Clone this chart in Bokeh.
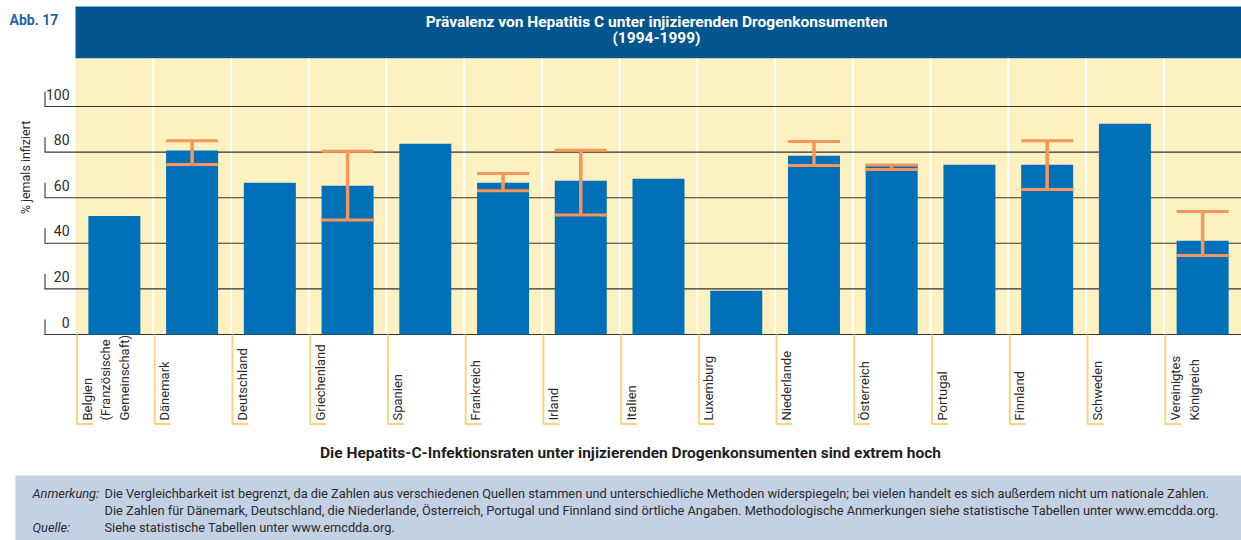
import math
from bokeh.plotting import figure
from bokeh.models import Range1d
from bokeh.core.properties import value
from bokeh.embed import file_html
from bokeh.resources import INLINE

NAN = float("nan")

# ---------------- data ----------------
categories = [
    "Belgien\n(Französische\nGemeinschaft)", "Dänemark", "Deutschland", "Griechenland",
    "Spanien", "Frankreich", "Irland", "Italien", "Luxemburg", "Niederlande",
    "Österreich", "Portugal", "Finnland", "Schweden", "Vereinigtes\nKönigreich",
]
prevalence = [52, 80.7, 66.6, 65.2, 83.7, 66.6, 67.4, 68.3, 19.2, 78.4, 74.7, 74.5, 74.5, 92.4, 41.1]
range_low = [NAN, 74.6, NAN, 50.2, NAN, 63.0, 52.4, NAN, NAN, 74.1, 72.4, NAN, 63.6, NAN, 34.6]
range_high = [NAN, 85.0, NAN, 80.4, NAN, 70.6, 80.8, NAN, NAN, 84.6, 74.3, NAN, 85.0, NAN, 54.0]
y_ticks = [0, 20, 40, 60, 80, 100]
y_tick_labels = ["0", "20", "40", "60", "80", "100"]

title_lines = ["Prävalenz von Hepatitis C unter injizierenden Drogenkonsumenten", "(1994-1999)"]
y_title = "% jemals infiziert"
fig_label = "Abb. 17"
subtitle = "Die Hepatits-C-Infektionsraten unter injizierenden Drogenkonsumenten sind extrem hoch"
note_heads = ["Anmerkung:", "", "Quelle:"]
note_lines = [
    "Die Vergleichbarkeit ist begrenzt, da die Zahlen aus verschiedenen Quellen stammen und unterschiedliche Methoden widerspiegeln; bei vielen handelt es sich außerdem nicht um nationale Zahlen.",
    "Die Zahlen für Dänemark, Deutschland, die Niederlande, Österreich, Portugal und Finnland sind örtliche Angaben. Methodologische Anmerkungen siehe statistische Tabellen unter www.emcdda.org.",
    "Siehe statistische Tabellen unter www.emcdda.org.",
]

# ---------------- layout helpers ----------------
W, H = 1241, 540
PLOT_L, PLOT_R, PLOT_T, BASE_Y = 75, 1241, 58, 334
N = len(categories)
CAT_W = (PLOT_R - PLOT_L) / N          # px per category
UNIT_H = 2.28                          # px per percentage point


def px(X):
    return (X - PLOT_L) / CAT_W - 0.5


def py(Y):
    return (BASE_Y - Y) / UNIT_H


FONT = value("Roboto")
BAR_COLOR = "#0070b8"
ERR_COLOR = "#f7955a"
HEADER_COLOR = "#03558e"
PLOT_BG = "#fdf0c1"
NOTE_BG = "#c4d0e4"
TEXT_COLOR = "#2b2b2b"
BRACKET_COLOR = "#fbd482"

p = figure(
    width=W, height=H,
    x_range=Range1d(px(0), px(W)), y_range=Range1d(py(H), py(0)),
    output_backend="svg", toolbar_location=None,
    x_axis_location=None, y_axis_location=None, title_location=None,
    min_border=0, min_border_left=0, min_border_right=0, min_border_top=0, min_border_bottom=0,
    outline_line_color=None, background_fill_color="white", border_fill_color="white",
)
p.xgrid.visible = False
p.ygrid.visible = False

idx = list(range(N))

# header band and plot background
p.quad(left=px(PLOT_L), right=px(PLOT_R), top=py(6), bottom=py(PLOT_T), color=HEADER_COLOR, line_color=None)
p.quad(left=px(PLOT_L), right=px(PLOT_R), top=py(PLOT_T), bottom=0, color=PLOT_BG, line_color=None)

# white category separators
sep_x = [i - 0.5 for i in range(1, N)]
p.segment(x0=sep_x, x1=sep_x, y0=[0] * len(sep_x), y1=[py(PLOT_T)] * len(sep_x), line_color="white", line_width=2)

# gridlines with L-shaped ticks
p.segment(x0=[px(44)] * len(y_ticks), x1=[px(PLOT_R)] * len(y_ticks), y0=y_ticks, y1=y_ticks,
          line_color="#333333", line_width=1.1)
p.segment(x0=[px(44.5)] * len(y_ticks), x1=[px(44.5)] * len(y_ticks), y0=y_ticks,
          y1=[t + 15 / UNIT_H for t in y_ticks], line_color="#333333", line_width=1.1)
p.text(x=[px(69)] * len(y_ticks), y=[t + 12.5 / UNIT_H for t in y_ticks], text=y_tick_labels,
       text_font=FONT, text_font_size="14px", text_color=TEXT_COLOR,
       text_align="right", text_baseline="alphabetic")

# bars
p.vbar(x=idx, top=prevalence, bottom=0, width=52 / CAT_W, fill_color=BAR_COLOR, line_color=None)

# error ranges
err_i = [i for i in idx if not math.isnan(range_low[i])]
lo = [range_low[i] for i in err_i]
hi = [range_high[i] for i in err_i]
half = 26 / CAT_W
p.segment(x0=err_i, x1=err_i, y0=lo, y1=hi, line_color=ERR_COLOR, line_width=3.5)
p.segment(x0=[i - half for i in err_i], x1=[i + half for i in err_i], y0=lo, y1=lo,
          line_color=ERR_COLOR, line_width=3)
p.segment(x0=[i - half for i in err_i], x1=[i + half for i in err_i], y0=hi, y1=hi,
          line_color=ERR_COLOR, line_width=3)

# category labels with yellow brackets
bx = [i - 0.5 + 1.5 / CAT_W for i in idx]
p.segment(x0=bx, x1=bx, y0=[0] * N, y1=[py(424)] * N, line_color=BRACKET_COLOR, line_width=2)
p.segment(x0=bx, x1=[b + 16 / CAT_W for b in bx], y0=[py(423.5)] * N, y1=[py(423.5)] * N,
          line_color=BRACKET_COLOR, line_width=2)
p.text(x=[i - 0.5 + 4 / CAT_W for i in idx], y=[py(420)] * N, text=categories, angle=math.pi / 2,
       text_font=FONT, text_font_size="13px", text_color=TEXT_COLOR,
       text_align="left", text_baseline="top", text_line_height=1.25)

# y-axis title
p.text(x=[px(25)], y=[py(167)], text=[y_title], angle=math.pi / 2, text_font=FONT,
       text_font_size="12.5px", text_color=TEXT_COLOR, text_align="center", text_baseline="middle")

# figure label and header title
p.text(x=[px(9)], y=[py(19)], text=[fig_label], text_font=FONT, text_font_size="14px",
       text_font_style="bold", text_color="#1d64ae", text_align="left", text_baseline="middle")
p.text(x=[px(656)] * 2, y=[py(21.5), py(37)], text=title_lines, text_font=FONT, text_font_size="15.5px",
       text_font_style="bold", text_color="white", text_align="center", text_baseline="middle")

# subtitle
p.text(x=[px(630)], y=[py(452)], text=[subtitle], text_font=FONT, text_font_size="15.5px",
       text_font_style="bold", text_color="#1e1e1e", text_align="center", text_baseline="middle")

# note box
p.quad(left=px(15), right=px(PLOT_R), top=py(475), bottom=py(H), color=NOTE_BG, line_color=None)
note_y = [py(493), py(510), py(527)]
p.text(x=[px(32)] * 3, y=note_y, text=note_heads, text_font=FONT, text_font_size="12.8px",
       text_font_style="italic", text_color=TEXT_COLOR, text_align="left", text_baseline="middle")
p.text(x=[px(104)] * 3, y=note_y, text=note_lines, text_font=FONT, text_font_size="12.8px",
       text_color=TEXT_COLOR, text_align="left", text_baseline="middle")

open("out.html", "w").write(file_html(p, INLINE))
